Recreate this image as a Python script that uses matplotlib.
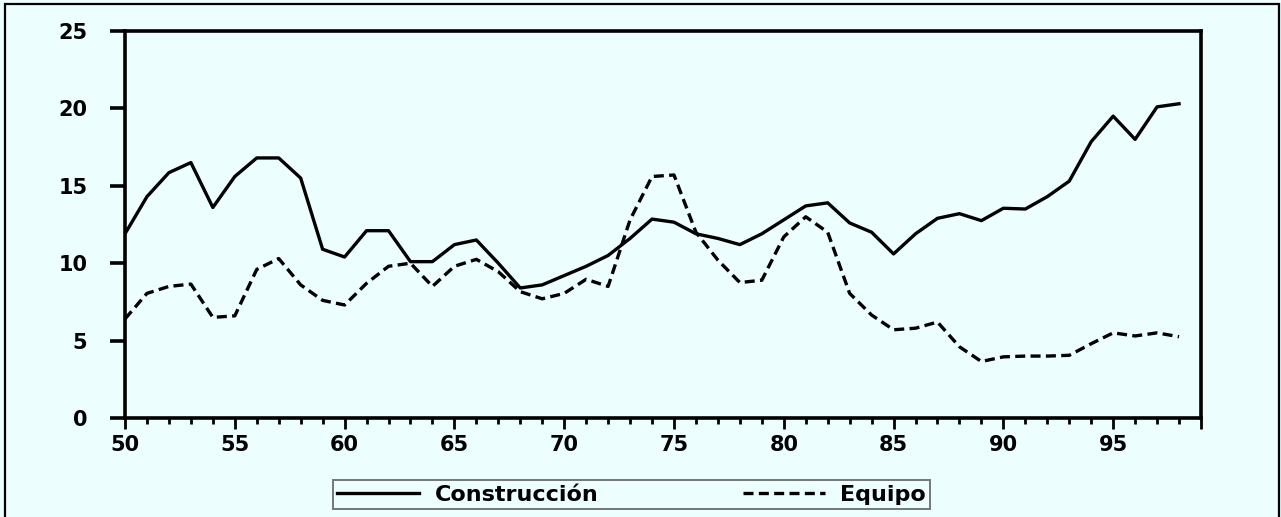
import matplotlib
matplotlib.use('Agg')
import matplotlib.pyplot as plt
from matplotlib.patches import Rectangle
from matplotlib.ticker import MultipleLocator

# years 1950-1998 (two-digit labels)
years = list(range(50, 99))

construccion = [11.9, 14.3, 15.85, 16.5, 13.6, 15.6, 16.8, 16.8, 15.5, 10.9,
                10.4, 12.1, 12.1, 10.1, 10.1, 11.2, 11.5, 10.0, 8.4, 8.6,
                9.2, 9.8, 10.5, 11.6, 12.85, 12.65, 11.9, 11.6, 11.2, 11.9,
                12.8, 13.7, 13.9, 12.6, 12.0, 10.6, 11.9, 12.9, 13.2, 12.75,
                13.55, 13.5, 14.3, 15.3, 17.85, 19.5, 18.0, 20.1, 20.3]

equipo = [6.4, 8.05, 8.5, 8.65, 6.5, 6.6, 9.6, 10.3, 8.6, 7.6,
          7.3, 8.7, 9.8, 10.0, 8.5, 9.8, 10.25, 9.45, 8.16, 7.7,
          8.05, 8.96, 8.5, 12.8, 15.6, 15.7, 12.0, 10.2, 8.75, 8.9,
          11.7, 13.0, 12.0, 8.05, 6.65, 5.7, 5.8, 6.2, 4.6, 3.65,
          3.95, 4.0, 4.0, 4.05, 4.8, 5.5, 5.3, 5.5, 5.25]

major_ticks = [50, 55, 60, 65, 70, 75, 80, 85, 90, 95, 99]
major_labels = ['50', '55', '60', '65', '70', '75', '80', '85', '90', '95', '']
y_ticks = [0, 5, 10, 15, 20, 25]

bg = '#ECFEFE'
plt.rcParams['font.family'] = ['DejaVu Sans']

fig = plt.figure(figsize=(12.81, 5.17), dpi=100)
fig.patch.set_facecolor(bg)
ax = fig.add_axes([125 / 1281, 1 - 418 / 517, (1201 - 125) / 1281, (418 - 31) / 517])
ax.set_facecolor(bg)

ax.plot(years, construccion, color='black', linewidth=2.4, label='Construcción')
ax.plot(years, equipo, color='black', linewidth=2.4, linestyle=(0, (3.0, 1.6)),
        label='Equipo')

ax.set_xlim(50, 99)
ax.set_ylim(0, 25)
ax.set_xticks(major_ticks)
ax.set_xticklabels(major_labels)
ax.xaxis.set_minor_locator(MultipleLocator(1))
ax.set_yticks(y_ticks)

for spine in ax.spines.values():
    spine.set_linewidth(2.6)
    spine.set_color('black')

ax.tick_params(axis='x', which='major', direction='out', length=8, width=2,
               pad=4, labelsize=15)
ax.tick_params(axis='x', which='minor', direction='out', length=4, width=2)
ax.tick_params(axis='y', which='major', direction='out', length=11, width=2.6,
               pad=16, labelsize=15)
for lab in ax.get_xticklabels() + ax.get_yticklabels():
    lab.set_fontweight('bold')

fs = 16
px = fs * 100 / 72
leg = fig.legend(loc='lower left', bbox_to_anchor=(333 / 1281, 1 - 509 / 517),
                 ncol=2, frameon=True, fancybox=False,
                 prop={'size': fs, 'weight': 'bold'},
                 handlelength=82 / px, handletextpad=15 / px,
                 columnspacing=145 / px, borderaxespad=0,
                 borderpad=0.2, handleheight=0.5)
leg.get_frame().set_edgecolor('#555555')
leg.get_frame().set_linewidth(1.4)
leg.get_frame().set_facecolor(bg)

# outer frame around the whole picture
fig.patches.append(Rectangle((5 / 1281, -0.01), (1279 - 5) / 1281, 1 - 4 / 517 + 0.01,
                             transform=fig.transFigure, fill=False,
                             edgecolor='black', linewidth=1.6))

fig.savefig('out.png', dpi=100, facecolor=bg)
